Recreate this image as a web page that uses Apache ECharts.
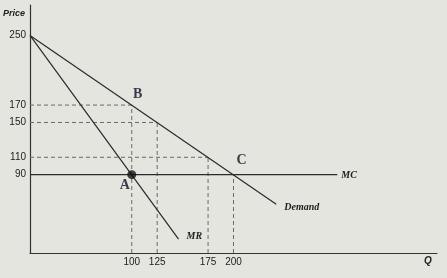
<!DOCTYPE html>
<html><head><meta charset="utf-8">
<script src="https://cdn.jsdelivr.net/npm/echarts@6/dist/echarts.min.js"></script>
<style>html,body{margin:0;padding:0;background:#e3e5de;}#c{width:447px;height:278px;}</style>
</head><body><div id="c"></div>
<script>
// Data
const yTickValues = [250, 170, 150, 110, 90];
const xTickValues = [100, 125, 175, 200];
const demandQ = [0, 242];
const demandP = [250, 56];
const mrQ = [0, 146];
const mrP = [250, 16];
const mcQ = [0, 302];
const mcP = [90, 90];
const pointNames = ['A', 'B', 'C'];
const pointQ = [100, 100, 200];
const pointP = [90, 170, 90];
// dashed guide lines: [q, p] corners
const guideQ = [100, 125, 175, 200];
const guideP = [170, 150, 110, 90];

const pair = (qs, ps) => qs.map((q, i) => [q, ps[i]]);
const lineCol = '#2b2b2b';
const dashCol = '#6a6a68';
const labelFont = {fontFamily: 'Liberation Serif', fontStyle: 'italic', fontWeight: 'bold', fontSize: 10, color: '#222'};

const series = [];
// dashed guides
guideQ.forEach((q, i) => {
  const p = guideP[i];
  series.push({type: 'line', data: [[q, 0], [q, p]], symbol: 'none', silent: true,
    lineStyle: {color: dashCol, width: 1, type: [4, 3]}});
  if (p !== 90) series.push({type: 'line', data: [[0, p], [q, p]], symbol: 'none', silent: true,
    lineStyle: {color: dashCol, width: 1, type: [4, 3]}});
});
function curve(qs, ps, name, lbl) {
  return {type: 'line', data: pair(qs, ps), symbol: 'none', lineStyle: {color: lineCol, width: 1.2}, z: 3,
    endLabel: Object.assign({show: true, formatter: name}, lbl)};
}
series.push(curve(demandQ, demandP, 'Demand', Object.assign({distance: 8, offset: [0, 3]}, labelFont)));
series.push(curve(mrQ, mrP, 'MR', Object.assign({distance: 8, offset: [0, -3]}, labelFont)));
series.push(curve(mcQ, mcP, 'MC', Object.assign({distance: 4, offset: [0, 1]}, labelFont)));
const offs = [[-7, 11], [6, -11], [8, -14]];
series.push({type: 'scatter', z: 5,
  data: pointNames.map((n, i) => ({value: [pointQ[i], pointP[i]], symbolSize: n === 'A' ? 9 : 0,
    label: {show: true, formatter: n, position: 'inside', offset: offs[i],
      fontFamily: 'Liberation Serif', fontWeight: 'bold', fontSize: 14, color: '#0c0c20'}})),
  itemStyle: {color: '#111'}});

const chart = echarts.init(document.getElementById('c'), null, {renderer: 'canvas'});
chart.setOption({
  backgroundColor: '#e3e5de',
  animation: false,
  grid: {left: 30, right: 10, top: 5, bottom: 25, containLabel: false},
  xAxis: {type: 'value', min: 0, max: 400, interval: 25,
    axisLine: {lineStyle: {color: '#333', width: 1.2}},
    axisTick: {show: false}, splitLine: {show: false},
    axisLabel: {formatter: v => xTickValues.includes(v) ? String(v) : '', fontFamily: 'Liberation Sans',
      fontSize: 10, color: '#222', margin: 4, showMinLabel: true, showMaxLabel: true}},
  yAxis: {type: 'value', min: 0, max: 285, interval: 5,
    axisLine: {show: true, lineStyle: {color: '#333', width: 1.2}},
    axisTick: {show: false}, splitLine: {show: false},
    axisLabel: {formatter: v => yTickValues.includes(v) ? String(v) : '', fontFamily: 'Liberation Sans',
      fontSize: 10, color: '#222', margin: 4, showMaxLabel: false}},
  graphic: [
    {type: 'text', left: 3, top: 9, style: {text: 'Price', font: 'italic bold 9px Liberation Sans', fill: '#222'}},
    {type: 'text', left: 424, top: 256, style: {text: 'Q', font: 'italic bold 10px Liberation Sans', fill: '#222'}}
  ],
  series: series
});
</script></body></html>
